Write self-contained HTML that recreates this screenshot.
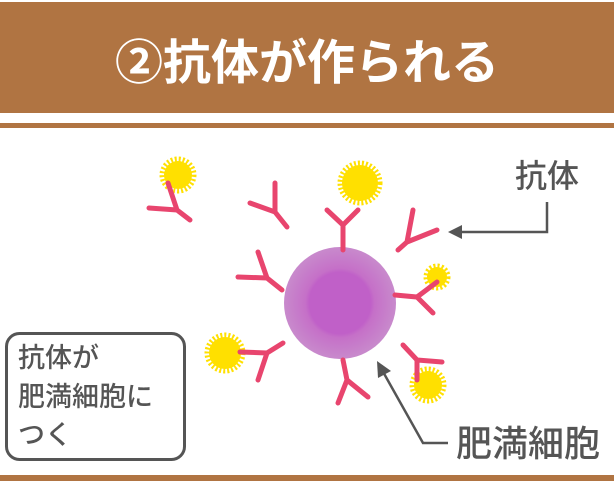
<!DOCTYPE html>
<html><head><meta charset="utf-8"><style>
html,body{margin:0;padding:0;background:#fff;width:614px;height:483px;overflow:hidden}
</style></head><body>
<svg width="614" height="483" viewBox="0 0 614 483" xmlns="http://www.w3.org/2000/svg">
<defs>
<radialGradient id="cell" cx="0.5" cy="0.5" r="0.5">
<stop offset="0.55" stop-color="#c060c8"/><stop offset="0.62" stop-color="#c570c8"/><stop offset="1" stop-color="#c88acc"/>
</radialGradient>
</defs>
<rect x="0" y="2" width="614" height="111" fill="#b07442"/>
<rect x="0" y="123" width="614" height="5" fill="#b07442"/>
<rect x="0" y="475" width="614" height="6" fill="#b07442"/>
<text x="307" y="79" text-anchor="middle" font-family="Liberation Sans, Noto Sans CJK JP, sans-serif" font-size="48" font-weight="bold" fill="#fff">②抗体が作られる</text>

<circle cx="340" cy="303" r="56" fill="url(#cell)"/>

<g fill="#ffe000">
<circle cx="178" cy="175" r="14"/><circle cx="360" cy="183" r="18"/><circle cx="437" cy="277" r="10"/><circle cx="225" cy="353" r="16"/><circle cx="428" cy="385" r="14"/>
</g>
<g fill="none" stroke="#ffe000" stroke-width="5" stroke-dasharray="2 2">
<circle cx="178" cy="175" r="16"/><circle cx="360" cy="183" r="20"/><circle cx="437" cy="277" r="11"/><circle cx="225" cy="353" r="18"/><circle cx="428" cy="385" r="16"/>
</g>

<g stroke="#e8456e" stroke-width="5" stroke-linecap="round" fill="none">
<path d="M149,208 L177,210 L168,183 M177,210 L190,220"/>
<path d="M250,203 L275,212 L275,183 M275,212 L287,227"/>
<path d="M343,250 L343,225 L327,210 M343,225 L358,210"/>
<path d="M398,250 L407,242 L413,210 M407,242 L437,230"/>
<path d="M238,277 L267,278 L258,252 M267,278 L282,290"/>
<path d="M395,295 L417,297 L437,282 M417,297 L433,313"/>
<path d="M283,343 L267,353 L240,352 M267,353 L258,380"/>
<path d="M343,360 L347,380 L338,403 M347,380 L368,397"/>
<path d="M403,345 L417,360 L442,362 M417,360 L417,380"/>
</g>

<g stroke="#555" stroke-width="2.5" fill="none">
<path d="M547,202 L547,232 L458,232"/>
<path d="M448,443 L423,443 L382,370"/>
</g>
<polygon points="448,232 462,225 462,239" fill="#555"/>
<polygon points="377,361 378,378 391,371" fill="#555"/>

<g font-family="Liberation Sans, Noto Sans CJK JP, sans-serif" fill="#555" font-weight="500">
<text x="515" y="187" font-size="32">抗体</text>
<text x="456" y="456" font-size="36">肥満細胞</text>
</g>

<rect x="6.5" y="333.5" width="178" height="126" rx="13" fill="#fff" stroke="#555" stroke-width="3"/>
<g font-family="Liberation Sans, Noto Sans CJK JP, sans-serif" fill="#555" font-size="27" font-weight="500">
<text x="18" y="367">抗体が</text>
<text x="18" y="406">肥満細胞に</text>
<text x="18" y="444">つく</text>
</g>
</svg>
</body></html>
